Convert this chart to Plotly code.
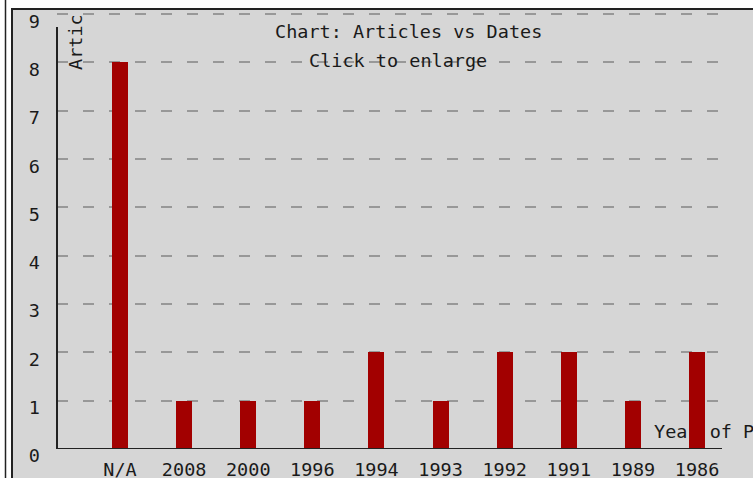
import plotly.graph_objects as go

# ---- data ----
categories = ["N/A", "2008", "2000", "1996", "1994", "1993", "1992", "1991", "1989", "1986"]
articles = [8, 1, 1, 1, 2, 1, 2, 2, 1, 2]
y_ticks = [0, 1, 2, 3, 4, 5, 6, 7, 8, 9]

title_text = "Chart: Articles vs Dates"
subtitle_text = "Click to enlarge"
x_title = "Year of Publication"
y_title = "Artic"

# ---- layout constants ----
W, H = 753, 478
ML, MR, MT, MB = 57, 23, 12, 29
PW = W - ML - MR
PH = H - MT - MB
UNIT = 48.33                      # pixels per article
XR = [-0.983, 9.514]
YR = [0, PH / UNIT]
FONT = "DejaVu Sans Mono"
FS = 18.5
TXT = "#1a1a1a"
BG = "#d6d6d6"
BAR = "#a20000"
LINE = "#222222"
GRID = "#989898"


def px(x):
    return (x - ML) / PW


def py(y):
    return (H - MB - y) / PH


def xdata(x):
    return XR[0] + (x - ML) / PW * (XR[1] - XR[0])


def ydata(y):
    return YR[0] + (H - MB - y) / PH * (YR[1] - YR[0])


fig = go.Figure()

# axis title drawn on the base subplot so the bars (overlay subplot) sit above it
fig.add_trace(go.Scatter(
    x=[xdata(654)], y=[ydata(433)], mode="text", text=[x_title],
    textposition="middle right",
    textfont=dict(family=FONT, size=FS, color=TXT),
    cliponaxis=False, hoverinfo="skip", showlegend=False,
    xaxis="x", yaxis="y",
))

fig.add_trace(go.Bar(
    x=categories, y=articles, width=0.25,
    marker=dict(color=BAR, line=dict(width=0)),
    showlegend=False, xaxis="x2", yaxis="y2",
))

shapes = [
    # grey panel
    dict(type="rect", xref="paper", yref="paper", layer="below",
         x0=px(12), x1=px(W + 10), y0=py(H + 10), y1=py(9),
         fillcolor=BG, line=dict(width=0)),
    # frame lines
    dict(type="line", xref="paper", yref="paper", layer="above",
         x0=px(12), x1=px(12), y0=py(H + 10), y1=py(8),
         line=dict(color=LINE, width=2)),
    dict(type="line", xref="paper", yref="paper", layer="above",
         x0=px(11), x1=px(W + 10), y0=py(9), y1=py(9),
         line=dict(color=LINE, width=2)),
    dict(type="line", xref="paper", yref="paper", layer="above",
         x0=px(5.5), x1=px(5.5), y0=py(H + 10), y1=py(-10),
         line=dict(color=LINE, width=1.5)),
    # axis lines
    dict(type="line", xref="paper", yref="y", layer="above",
         x0=0, x1=0, y0=0, y1=ydata(27),
         line=dict(color=LINE, width=2)),
    dict(type="line", xref="paper", yref="y", layer="above",
         x0=0, x1=px(722), y0=0, y1=0,
         line=dict(color=LINE, width=2)),
]

annotations = [
    dict(text=title_text, xref="paper", yref="paper", x=px(408), y=py(31.5),
         xanchor="center", yanchor="middle", showarrow=False,
         font=dict(family=FONT, size=FS, color=TXT)),
    dict(text=subtitle_text, xref="paper", yref="paper", x=px(398), y=py(61),
         xanchor="center", yanchor="middle", showarrow=False,
         font=dict(family=FONT, size=FS, color=TXT)),
    dict(text=y_title, xref="paper", yref="paper", x=px(75), y=py(42),
         xanchor="center", yanchor="middle", showarrow=False, textangle=-90,
         font=dict(family=FONT, size=FS, color=TXT)),
]

fig.update_layout(
    width=W, height=H,
    margin=dict(l=ML, r=MR, t=MT, b=MB, pad=0),
    paper_bgcolor="white", plot_bgcolor="rgba(0,0,0,0)",
    font=dict(family=FONT, size=FS, color=TXT),
    showlegend=False,
    bargap=0,
    xaxis=dict(type="linear", range=XR, showgrid=False, zeroline=False,
               showticklabels=False, ticks="", showline=False,
               fixedrange=True, automargin=False),
    yaxis=dict(range=YR, tickvals=y_ticks, showgrid=True, gridcolor=GRID,
               gridwidth=2, griddash="11px,15px", zeroline=False,
               showline=False, ticks="", ticklabelstandoff=16,
               ticklabelshift=7, fixedrange=True, automargin=False),
    xaxis2=dict(type="category", overlaying="x", anchor="y2", range=XR,
                categoryorder="array", categoryarray=categories,
                showgrid=False, zeroline=False, ticks="", showline=False,
                ticklabelstandoff=7, fixedrange=True, automargin=False),
    yaxis2=dict(overlaying="y", anchor="x2", range=YR, showgrid=False,
                zeroline=False, showticklabels=False, ticks="",
                showline=False, fixedrange=True, automargin=False),
    shapes=shapes,
    annotations=annotations,
)

fig.write_html(
    "out.html",
    config={"displayModeBar": False, "staticPlot": True},
    post_script="document.body.style.margin='0';document.body.style.overflow='hidden';",
)
